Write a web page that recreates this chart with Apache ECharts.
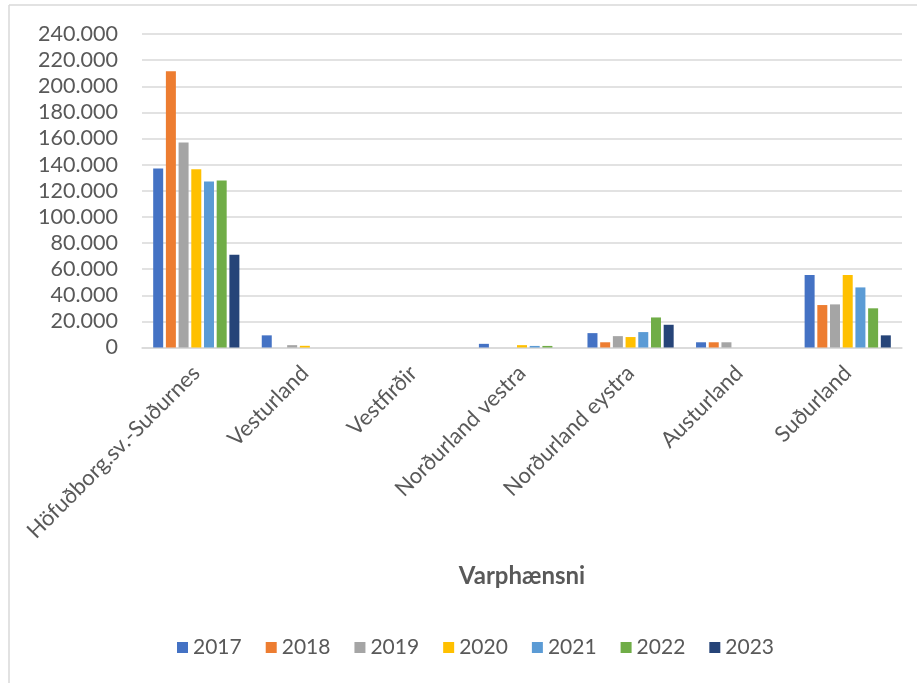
<!DOCTYPE html>
<html>
<head>
<meta charset="utf-8">
<script src="https://cdn.jsdelivr.net/npm/echarts@6/dist/echarts.min.js"></script>
<style>
html,body{margin:0;padding:0;background:#fff;}
#c{width:917px;height:683px;}
</style>
</head>
<body>
<div id="c"></div>
<script>
const categories = ['Höfuðborg.sv.-Suðurnes','Vesturland','Vestfirðir','Norðurland vestra','Norðurland eystra','Austurland','Suðurland'];
const years = ['2017','2018','2019','2020','2021','2022','2023'];
const s2017 = [137000, 9300, 0, 2800, 11000, 4000, 55500];
const s2018 = [211500, 0, 0, 0, 4000, 4000, 32500];
const s2019 = [157000, 1800, 0, 0, 8700, 4000, 33000];
const s2020 = [136500, 1300, 0, 1800, 8000, 0, 55500];
const s2021 = [127000, 0, 0, 1200, 11800, 0, 46000];
const s2022 = [127800, 0, 0, 1200, 23000, 0, 30000];
const s2023 = [71000, 0, 0, 0, 17400, 0, 9300];
const seriesValues = [s2017, s2018, s2019, s2020, s2021, s2022, s2023];
const colors = ['#4472C4','#ED7D31','#A5A5A5','#FFC000','#5B9BD5','#70AD47','#264478'];
const yTicks = {min: 0, max: 240000, interval: 20000};
const axisTitle = 'Varphænsni';

const FONT = 'Lato, "Liberation Sans", sans-serif';
const fmt = v => String(v).replace(/\B(?=(\d{3})+(?!\d))/g, '.');

const chart = echarts.init(document.getElementById('c'), null, {renderer: 'canvas'});
chart.setOption({
  animation: false,
  backgroundColor: '#fff',
  color: colors,
  textStyle: {fontFamily: FONT},
  grid: {left: 142, right: 15, top: 34, bottom: 335.5, containLabel: false},
  legend: {
    data: years,
    left: 172,
    top: 632,
    itemWidth: 11,
    itemHeight: 11,
    itemGap: 24,
    icon: 'rect',
    textStyle: {fontSize: 21, color: '#595959', fontFamily: FONT}
  },
  xAxis: {
    type: 'category',
    data: categories,
    name: axisTitle,
    nameLocation: 'middle',
    nameGap: 217,
    nameTextStyle: {fontSize: 24, fontWeight: 'bold', color: '#595959', fontFamily: FONT},
    axisLine: {lineStyle: {color: '#d9d9d9', width: 1.5}},
    axisTick: {show: false},
    axisLabel: {rotate: 45, fontSize: 22, color: '#595959', margin: 22, interval: 0, fontFamily: FONT}
  },
  yAxis: {
    type: 'value',
    min: yTicks.min,
    max: yTicks.max,
    interval: yTicks.interval,
    axisLine: {show: false},
    axisTick: {show: false},
    splitLine: {lineStyle: {color: '#d9d9d9', width: 1.5}},
    axisLabel: {fontSize: 21.5, color: '#595959', margin: 24, formatter: fmt, fontFamily: FONT}
  },
  series: years.map((y, i) => ({
    name: y,
    type: 'bar',
    data: seriesValues[i],
    barWidth: 10,
    barGap: '27%',
    itemStyle: {color: colors[i]}
  })),
  graphic: [
    {type: 'line', shape: {x1: 9, y1: 5, x2: 917, y2: 5}, style: {stroke: '#d9d9d9', lineWidth: 1.5}, silent: true},
    {type: 'line', shape: {x1: 9, y1: 5, x2: 9, y2: 683}, style: {stroke: '#d9d9d9', lineWidth: 1.5}, silent: true}
  ]
});
</script>
</body>
</html>
